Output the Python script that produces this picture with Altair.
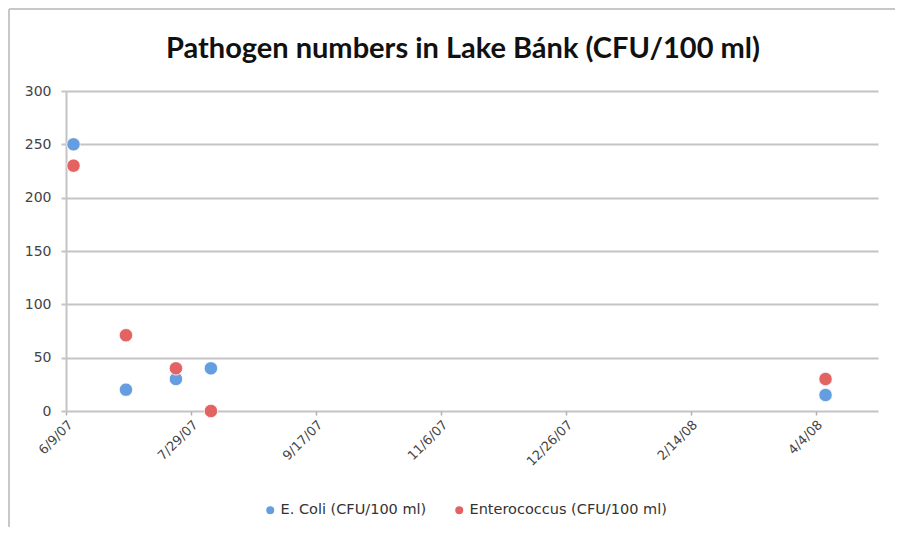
import altair as alt
import pandas as pd

dates = ["2007-06-12", "2007-07-03", "2007-07-23", "2007-08-06", "2008-04-08"]
ecoli = [250, 20, 30, 40, 15]
entero = [230, 71, 40, 0, 30]
series_names = ["E. Coli (CFU/100 ml)", "Enterococcus (CFU/100 ml)"]
tick_dates = [(2007, 6, 9), (2007, 7, 29), (2007, 9, 17), (2007, 11, 6),
              (2007, 12, 26), (2008, 2, 14), (2008, 4, 4)]
y_ticks = [0, 50, 100, 150, 200, 250, 300]
title_text = "Pathogen numbers in Lake Bánk (CFU/100 ml)"

rows = []
for d, v in zip(dates, ecoli):
    rows.append({"date": d, "value": v, "series": series_names[0]})
for d, v in zip(dates, entero):
    rows.append({"date": d, "value": v, "series": series_names[1]})
df = pd.DataFrame(rows)

def dt(y, m, d):
    return alt.DateTime(year=y, month=m, date=d, utc=True)

AX_FONT = "DejaVu Sans"

points = alt.Chart(df).mark_circle(size=180, opacity=1, stroke="#ffffff", strokeWidth=0.8).encode(
    x=alt.X("date:T", scale=alt.Scale(type="utc", domain=[dt(2007, 6, 9), dt(2008, 4, 29)]),
            axis=alt.Axis(values=[dt(*t) for t in tick_dates],
                          labelExpr="utcFormat(datum.value, '%-m/%-d/%y')",
                          labelAngle=-45, title=None, grid=False, domain=False,
                          tickColor="#b0b0b0", tickSize=4, tickWidth=1.5, labelFontSize=13,
                          labelColor="#444444", labelFont=AX_FONT, labelPadding=3)),
    y=alt.Y("value:Q", scale=alt.Scale(domain=[0, 300], nice=False),
            axis=alt.Axis(values=y_ticks, title=None, gridColor="#c4c4c4", gridWidth=2,
                          domainColor="#c4c4c4", domainWidth=2, tickColor="#c4c4c4", tickSize=5,
                          tickWidth=2, labelFontSize=14, labelColor="#444444", labelFont=AX_FONT,
                          labelPadding=10)),
    color=alt.Color("series:N", scale=alt.Scale(domain=series_names, range=["#649de0", "#e36262"]),
                    legend=alt.Legend(orient="none", legendX=197, legendY=412, direction="horizontal",
                                      title=None, symbolType="circle", symbolSize=90,
                                      labelFontSize=14.5, labelFont=AX_FONT, labelColor="#333333",
                                      labelLimit=400, columnPadding=24, labelOffset=3,
                                      symbolStrokeColor="#ffffff")),
)

frame_df = pd.DataFrame({"k": [0]})
top_border = alt.Chart(frame_df).mark_rule(color="#c8c8c8", strokeWidth=2).encode(
    x=alt.value(-57), x2=alt.value(860), y=alt.value(-82))
left_border = alt.Chart(frame_df).mark_rule(color="#c8c8c8", strokeWidth=2).encode(
    x=alt.value(-57), y=alt.value(-82), y2=alt.value(440))

title_df = pd.DataFrame({"t": [title_text]})
title = alt.Chart(title_df).mark_text(font="Lato", fontSize=29, fontWeight="bold", color="#111111",
                                      align="center", baseline="alphabetic").encode(
    text="t:N", x=alt.value(397), y=alt.value(-33))

chart = alt.layer(top_border, left_border, title, points).properties(
    width=812, height=320,
    padding={"left": 58, "top": 83, "right": 17, "bottom": 116},
    autosize=alt.AutoSizeParams(type="none"),
).configure_view(stroke=None)

chart.save("out.html", embed_options={"renderer": "svg", "actions": False})
